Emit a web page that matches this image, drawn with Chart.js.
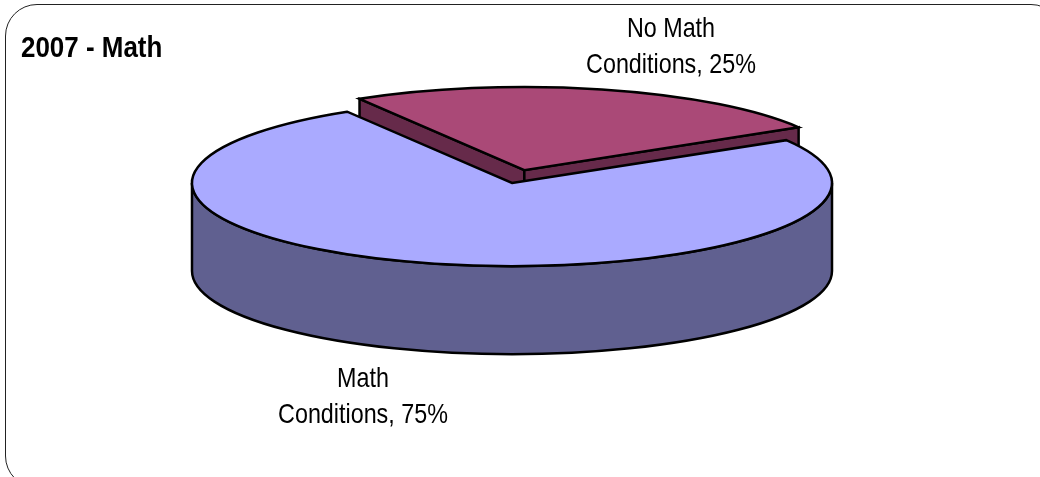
<!DOCTYPE html>
<html>
<head>
<meta charset="utf-8">
<script src="https://cdn.jsdelivr.net/npm/chart.js@4/dist/chart.umd.js"></script>
<style>
  html, body { margin: 0; padding: 0; background: #fff; overflow: hidden; }
  #wrap { position: relative; width: 1040px; height: 477px; overflow: hidden; }
  #frame { position: absolute; left: 5px; top: 4px; width: 1056px; height: 482px;
           border: 1.5px solid #222; border-radius: 32px; }
  canvas { position: absolute; left: 0; top: 0; }
</style>
</head>
<body>
<div id="wrap">
  <div id="frame"></div>
  <canvas id="pieChart" width="1040" height="477"></canvas>
</div>
<script>
const chartTitle = '2007 - Math';
const categories = ['No Math', 'Math'];
const values = [25, 75];
const topColors = ['#AA4977', '#AAAAFF'];
const wallColors = ['#662A4A', '#606090'];

const fontName = '"Liberation Sans", Arial, sans-serif';
const squash = 0.26;
const depth = 88;
const explode = 51;
const explodedIndex = 0;
// where each label's block is centred, and its two baselines
const labelSpots = [
  { x: 671, y1: 37, y2: 73 },
  { x: 363, y1: 387, y2: 423 }
];

function shift(arc, i) {
  if (i !== explodedIndex) return { x: 0, y: 0 };
  const mid = (arc.startAngle + arc.endAngle) / 2;
  return { x: Math.cos(mid) * explode, y: Math.sin(mid) * explode };
}

function flatten(ctx, arc) {
  ctx.translate(arc.x, arc.y);
  ctx.scale(1, squash);
  ctx.translate(-arc.x, -arc.y);
}

// screen position of a rim point, the circle being flattened to an ellipse
function rimPoint(arc, i, angle, r) {
  const s = shift(arc, i);
  return {
    x: arc.x + s.x + Math.cos(angle) * r,
    y: arc.y + (s.y + Math.sin(angle) * r) * squash
  };
}

function drawCutWalls(ctx, arc, i) {
  const apex = rimPoint(arc, i, arc.startAngle, 0);
  [arc.startAngle, arc.endAngle].forEach(angle => {
    const p = rimPoint(arc, i, angle, arc.outerRadius);
    ctx.beginPath();
    ctx.moveTo(p.x, p.y);
    ctx.lineTo(apex.x, apex.y);
    ctx.lineTo(apex.x, apex.y + depth);
    ctx.lineTo(p.x, p.y + depth);
    ctx.closePath();
    ctx.fillStyle = wallColors[i];
    ctx.fill();
    ctx.stroke();
  });
}

function drawFrontWall(ctx, arc, i) {
  const r = arc.outerRadius;
  ctx.beginPath();
  ctx.moveTo(arc.x + r, arc.y);
  ctx.ellipse(arc.x, arc.y, r, r * squash, 0, 0, Math.PI);
  ctx.lineTo(arc.x - r, arc.y + depth);
  ctx.ellipse(arc.x, arc.y + depth, r, r * squash, 0, Math.PI, 0, true);
  ctx.closePath();
  ctx.fillStyle = wallColors[i];
  ctx.fill();
  ctx.stroke();
}

function drawTop(ctx, arc, i) {
  const s = shift(arc, i);
  ctx.save();
  flatten(ctx, arc);
  ctx.translate(s.x, s.y);
  arc.draw(ctx);
  ctx.beginPath();
  ctx.moveTo(arc.x, arc.y);
  ctx.arc(arc.x, arc.y, arc.outerRadius, arc.startAngle, arc.endAngle);
  ctx.closePath();
  ctx.restore();
  // stroked after restore so the pen is not flattened too
  ctx.stroke();
}

// the reference text is condensed and no narrow font is installed
function narrowText(ctx, text, x, y, widthScale) {
  ctx.save();
  ctx.translate(x, y);
  ctx.scale(widthScale, 1);
  ctx.fillText(text, 0, 0);
  ctx.restore();
}

const pie3d = {
  id: 'pie3d',
  beforeDatasetDraw(chart, args) {
    const ctx = chart.ctx;
    const arcs = args.meta.data;
    const mainIndex = arcs.findIndex((a, i) => i !== explodedIndex);
    ctx.save();
    ctx.lineWidth = 2.5;
    ctx.lineJoin = 'miter';
    ctx.strokeStyle = '#000';
    drawCutWalls(ctx, arcs[explodedIndex], explodedIndex);
    drawFrontWall(ctx, arcs[mainIndex], mainIndex);
    drawTop(ctx, arcs[mainIndex], mainIndex);
    drawTop(ctx, arcs[explodedIndex], explodedIndex);
    ctx.restore();
    return false;
  },
  afterDraw(chart) {
    const ctx = chart.ctx;
    ctx.save();
    ctx.fillStyle = '#000';
    ctx.textAlign = 'left';
    ctx.font = 'bold 30px ' + fontName;
    narrowText(ctx, chartTitle, 21, 57, 0.865);
    ctx.textAlign = 'center';
    ctx.font = '28px ' + fontName;
    categories.forEach((name, i) => {
      const spot = labelSpots[i];
      narrowText(ctx, name, spot.x, spot.y1, 0.833);
      narrowText(ctx, 'Conditions, ' + values[i] + '%', spot.x, spot.y2, 0.833);
    });
    ctx.restore();
  }
};

new Chart(document.getElementById('pieChart'), {
  type: 'pie',
  data: {
    labels: categories,
    datasets: [{
      data: values,
      backgroundColor: topColors,
      borderWidth: 0,
      clip: false
    }]
  },
  options: {
    responsive: false,
    animation: false,
    rotation: -31,
    radius: 320,
    layout: { padding: { left: 21, right: 37, top: 72, bottom: 183 } },
    plugins: {
      legend: { display: false },
      tooltip: { enabled: false }
    }
  },
  plugins: [pie3d]
});
</script>
</body>
</html>
